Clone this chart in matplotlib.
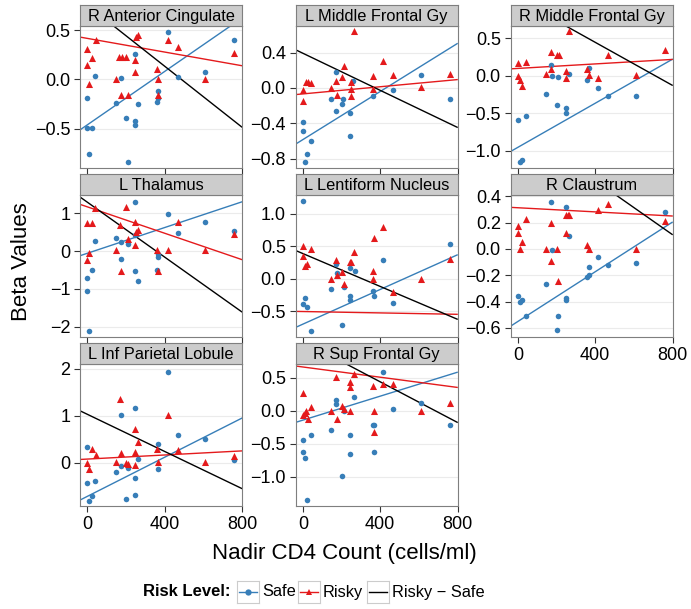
import numpy as np
import matplotlib
matplotlib.use("Agg")
import matplotlib.pyplot as plt

plt.rcParams["font.family"] = ["Liberation Sans", "DejaVu Sans"]

# ---- data ------------------------------------------------------------
panel_names = ["R Anterior Cingulate", "L Middle Frontal Gy", "R Middle Frontal Gy",
               "L Thalamus", "L Lentiform Nucleus", "R Claustrum",
               "L Inf Parietal Lobule", "R Sup Frontal Gy"]

p1_safe_x = [0, 0, 24, 10, 41, 146, 172, 200, 208, 246, 246, 246, 261, 358, 365, 365, 415, 468, 609, 760]
p1_safe_y = [-0.19, -0.49, -0.49, -0.76, 0.04, -0.24, 0.02, -0.39, -0.84, 0.26, -0.42, -0.46, -0.25,
             -0.23, -0.12, -0.19, 0.48, 0.03, 0.08, 0.40]
p1_risky_x = [0, 0, 22, 10, 43, 146, 165, 178, 172, 200, 210, 246, 246, 250, 263, 358, 365, 368, 415, 468, 609, 760]
p1_risky_y = [0.31, 0.15, 0.22, -0.05, 0.40, 0.0, 0.23, 0.23, -0.16, 0.23, -0.16, 0.20, 0.08, 0.43, 0.45,
              0.11, 0.0, -0.16, 0.40, 0.33, 0.0, 0.27]

p2_safe_x = [0, 0, 10, 24, 41, 146, 172, 172, 200, 208, 246, 246, 261, 365, 468, 609, 760]
p2_safe_y = [-0.39, -0.49, -0.84, -0.75, -0.60, -0.12, 0.18, -0.26, -0.18, -0.12, -0.28, -0.54, 0.08,
             -0.09, -0.02, 0.15, -0.12]
p2_risky_x = [0, 3, 14, 28, 41, 148, 172, 176, 200, 212, 248, 248, 250, 265, 361, 365, 415, 468, 611, 762]
p2_risky_y = [-0.15, -0.02, 0.07, 0.07, 0.06, 0.0, 0.08, -0.08, 0.12, 0.25, 0.07, -0.01, -0.09, 0.64,
              0.13, -0.01, 0.30, 0.15, 0.01, 0.16]

p3_safe_x = [0, 10, 24, 41, 148, 172, 175, 206, 203, 248, 248, 265, 359, 368, 416, 468, 609]
p3_safe_y = [-0.59, -1.15, -1.12, -0.53, -0.24, 0.15, 0.0, -0.02, -0.39, -0.43, -0.49, 0.02, -0.05,
             0.11, -0.16, -0.27, -0.27]
p3_risky_x = [0, 0, 12, 24, 41, 148, 172, 172, 203, 213, 248, 248, 265, 359, 368, 416, 468, 609, 760]
p3_risky_y = [0.17, 0.0, -0.06, -0.14, 0.19, 0.02, 0.32, 0.09, 0.28, 0.28, 0.07, -0.03, 0.59, 0.09,
              0.01, -0.03, 0.28, 0.01, 0.35]

p4_safe_x = [0, 0, 10, 24, 41, 146, 172, 172, 208, 246, 246, 246, 261, 358, 365, 365, 415, 468, 609, 760]
p4_safe_y = [-0.72, -1.06, -2.11, -0.49, 0.27, 0.35, 0.23, -0.21, 0.18, 1.29, -0.53, 0.42, -0.79,
             -0.49, -0.16, -0.09, 0.98, 0.47, 0.77, 0.53]
p4_risky_x = [0, 24, 10, 0, 41, 146, 170, 172, 200, 208, 246, 246, 250, 263, 358, 368, 415, 468, 609, 760]
p4_risky_y = [0.75, 0.74, -0.06, -0.24, 1.13, 0.02, 0.69, -0.53, 1.17, 0.32, 0.77, 0.16, 0.51, 0.55,
              0.03, -0.53, 0.03, 0.76, 0.02, 0.44]

p5_safe_x = [0, 0, 10, 24, 41, 148, 172, 176, 212, 246, 268, 246, 246, 203, 361, 368, 416, 468, 762]
p5_safe_y = [1.19, -0.39, -0.30, -0.43, -0.81, -0.16, 0.23, 0.08, -0.13, 0.16, 0.12, -0.27, -0.33,
             -0.71, -0.19, -0.27, 0.29, -0.38, 0.53]
p5_risky_x = [0, 0, 10, 24, 41, 148, 172, 176, 200, 212, 246, 250, 265, 361, 365, 368, 416, 468, 611, 762]
p5_risky_y = [0.51, 0.35, 0.19, 0.22, 0.46, 0.0, 0.29, 0.05, 0.10, -0.09, 0.26, 0.26, 0.41, 0.12,
              0.0, 0.62, 0.79, -0.20, -0.01, 0.31]

p6_safe_x = [0, 12, 24, 41, 148, 172, 175, 203, 210, 248, 248, 248, 265, 359, 368, 368, 416, 468, 609, 760]
p6_safe_y = [-0.36, -0.40, -0.39, -0.51, -0.27, 0.36, -0.005, -0.62, -0.51, 0.32, -0.37, -0.39, 0.10,
             -0.21, -0.20, -0.14, -0.06, -0.12, -0.11, 0.28]
p6_risky_x = [0, 0, 24, 12, 41, 148, 172, 172, 203, 210, 248, 258, 265, 248, 359, 368, 416, 468, 609, 760]
p6_risky_y = [0.175, 0.12, 0.05, 0.0, 0.23, 0.0, 0.195, -0.09, 0.0, -0.24, 0.26, 0.26, 0.26, 0.12,
              0.03, 0.0, 0.30, 0.34, 0.0, 0.21]

p7_safe_x = [0, 0, 10, 24, 41, 146, 172, 172, 200, 208, 246, 246, 246, 261, 365, 365, 415, 468, 609, 760]
p7_safe_y = [0.33, -0.43, -0.81, -0.70, -0.38, -0.19, 1.01, -0.07, -0.77, -0.12, 1.16, -0.32, -0.68,
             0.09, 0.40, -0.13, 1.94, 0.60, 0.50, 0.06]
p7_risky_x = [0, 10, 22, 43, 146, 170, 172, 200, 210, 246, 246, 246, 263, 358, 365, 415, 468, 609, 760]
p7_risky_y = [-0.01, -0.13, 0.29, 0.16, 0.02, 1.35, 0.21, 0.0, -0.02, 0.71, 0.23, -0.04, 0.45, 0.29,
              0.02, 1.01, 0.27, 0.02, 0.15]

p8_safe_x = [0, 0, 10, 24, 41, 148, 172, 172, 203, 212, 246, 246, 265, 361, 368, 368, 415, 468, 611, 762]
p8_safe_y = [-0.45, -0.63, -0.72, -1.35, -0.36, -0.29, 0.16, 0.10, -0.98, 0.0, -0.36, -0.66, 0.20,
             -0.22, -0.22, -0.63, 0.59, 0.02, 0.11, -0.21]
p8_risky_x = [0, 3, 10, 14, 28, 41, 148, 172, 176, 200, 212, 246, 246, 246, 265, 361, 368, 368, 415,
              468, 611, 762]
p8_risky_y = [0.26, -0.06, -0.03, 0.0, -0.12, 0.05, 0.0, 0.51, -0.12, 0.07, 0.03, 0.44, 0.36, 0.0,
              0.56, 0.37, 0.0, -0.32, 0.40, 0.41, 0.0, 0.11]

# fitted lines: value at nadir CD4 = 0 and = 800
safe_line = [(-0.461, 0.625), (-0.585, 0.503), (-0.953, 0.221), (-0.059, 1.30),
             (-0.702, 0.368), (-0.552, 0.205), (-0.715, 0.95), (-0.143, 0.581)]
risky_line = [(0.418, 0.140), (-0.068, 0.094), (0.098, 0.218), (1.167, -0.227),
              (-0.507, -0.55), (0.314, 0.251), (0.078, 0.252), (0.66, 0.351)]
diff_line = [(0.755, -0.485), (0.392, -0.447), (1.02, -0.128), (1.29, -1.61),
             (0.387, -0.627), (0.935, 0.109), (1.03, -0.55), (1.05, -0.178)]

y_ticks = [[-0.5, 0.0, 0.5], [-0.8, -0.4, 0.0, 0.4], [-1.0, -0.5, 0.0, 0.5], [-2, -1, 0, 1],
           [-0.5, 0.0, 0.5, 1.0], [-0.6, -0.4, -0.2, 0.0, 0.2, 0.4], [0, 1, 2], [-1.0, -0.5, 0.0, 0.5]]
y_fmt = ["{:.1f}", "{:.1f}", "{:.1f}", "{:.0f}", "{:.1f}", "{:.1f}", "{:.0f}", "{:.1f}"]
y_lims = [(-0.90, 0.544), (-0.906, 0.70), (-1.228, 0.663), (-2.27, 1.48),
          (-0.90, 1.29), (-0.67, 0.411), (-0.92, 2.10), (-1.44, 0.705)]
x_ticks = [0, 400, 800]

safe_x = [p1_safe_x, p2_safe_x, p3_safe_x, p4_safe_x, p5_safe_x, p6_safe_x, p7_safe_x, p8_safe_x]
safe_y = [p1_safe_y, p2_safe_y, p3_safe_y, p4_safe_y, p5_safe_y, p6_safe_y, p7_safe_y, p8_safe_y]
risky_x = [p1_risky_x, p2_risky_x, p3_risky_x, p4_risky_x, p5_risky_x, p6_risky_x, p7_risky_x, p8_risky_x]
risky_y = [p1_risky_y, p2_risky_y, p3_risky_y, p4_risky_y, p5_risky_y, p6_risky_y, p7_risky_y, p8_risky_y]

blue = "#377EB8"
red = "#E41A1C"
W, H = 691.0, 609.0

fig = plt.figure(figsize=(W / 100, H / 100), dpi=100)

col_left = [80, 295.5, 510.5]
row_top = [26, 195, 364]
pw, ph, sh = 162, 142, 21
xlim = (-38, 798)


def fmt(f, v):
    return f.format(v).replace("-", "\u2212")


for i in range(8):
    r, c = divmod(i, 3)
    left, top = col_left[c], row_top[r]
    ax = fig.add_axes([left / W, 1 - (top + ph) / H, pw / W, ph / H])
    ax.set_xlim(xlim)
    ax.set_ylim(y_lims[i])
    for yt in y_ticks[i]:
        ax.axhline(yt, color="#EBEBEB", lw=0.8, zorder=0)
    xx = np.array(xlim, dtype=float)
    for ln, col in ((safe_line[i], blue), (risky_line[i], red), (diff_line[i], "black")):
        yy = ln[0] + (ln[1] - ln[0]) * xx / 800.0
        ax.plot(xx, yy, color=col, lw=1.0, zorder=2)
    ax.scatter(safe_x[i], safe_y[i], s=16, color=blue, marker="o", linewidths=0, zorder=3)
    ax.scatter(risky_x[i], risky_y[i], s=26, color=red, marker="^", linewidths=0, zorder=3)
    ax.set_yticks(y_ticks[i])
    ax.set_yticklabels([fmt(y_fmt[i], v) for v in y_ticks[i]])
    ax.set_xticks(x_ticks)
    if i in (5, 6, 7):
        ax.set_xticklabels([str(v) for v in x_ticks])
    else:
        ax.set_xticklabels([])
        ax.tick_params(axis="x", length=0)
    ax.tick_params(axis="both", labelsize=13, color="#333333", width=0.8, length=4, pad=3)
    for sp in ax.spines.values():
        sp.set_color("#7F7F7F")
        sp.set_linewidth(0.8)

    # strip
    sax = fig.add_axes([left / W, 1 - top / H, pw / W, sh / H])
    sax.set_facecolor("#CCCCCC")
    sax.set_xticks([])
    sax.set_yticks([])
    for sp in sax.spines.values():
        sp.set_color("#7F7F7F")
        sp.set_linewidth(0.8)
    sax.text(0.5, 0.45, panel_names[i], ha="center", va="center", fontsize=11.8,
             transform=sax.transAxes)

fig.text(22 / W, 1 - 262 / H, "Beta Values", rotation=90, ha="center", va="center", fontsize=16)
fig.text(344 / W, 1 - 553 / H, "Nadir CD4 Count (cells/ml)", ha="center", va="center", fontsize=16)

# legend
ly = 592
fig.text(143 / W, 1 - ly / H, "Risk Level:", ha="left", va="center", fontsize=12,
         fontweight="bold")
keys = [(237, blue, "o", "Safe"), (298, red, "^", "Risky"), (367, "black", None, "Risky \u2212 Safe")]
for kx, kc, km, kl in keys:
    kax = fig.add_axes([kx / W, 1 - (ly + 11) / H, 22 / W, 22 / H])
    kax.set_xlim(0, 1)
    kax.set_ylim(0, 1)
    kax.plot([0.1, 0.9], [0.5, 0.5], color=kc, lw=1.0)
    if km is not None:
        kax.plot([0.5], [0.5], marker=km, color=kc, ms=4.5, mew=0)
    kax.set_xticks([])
    kax.set_yticks([])
    for sp in kax.spines.values():
        sp.set_color("#CCCCCC")
        sp.set_linewidth(0.8)
    fig.text((kx + 25) / W, 1 - ly / H, kl, ha="left", va="center", fontsize=11.8)

fig.savefig("out.png", dpi=100)
plt.close(fig)
